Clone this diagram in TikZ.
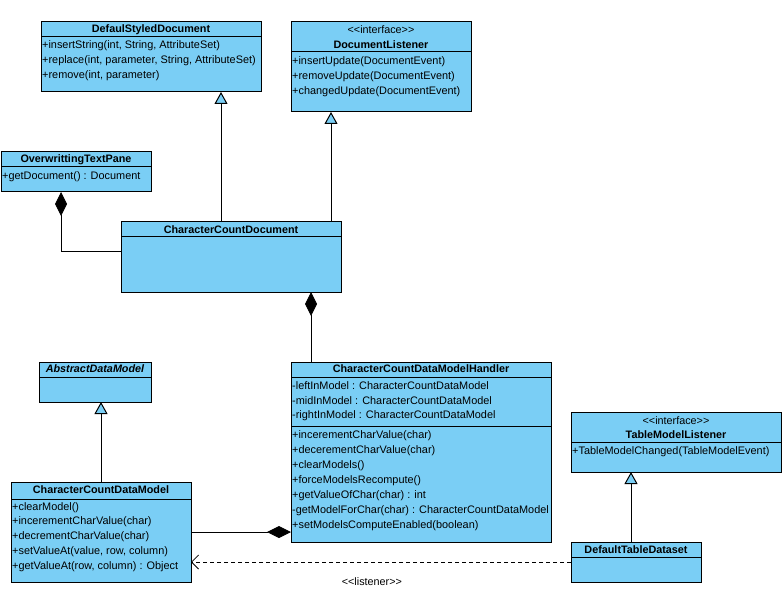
\documentclass[tikz,border=0pt]{standalone}
\usepackage{fontspec}
\setmainfont{Liberation Sans}
\usetikzlibrary{arrows.meta,calc}
\definecolor{umlblue}{RGB}{122,206,245}
\begin{document}
\begin{tikzpicture}[x=1pt,y=-1pt,
 cls/.style={draw, fill=umlblue, line width=1pt, anchor=north west, inner sep=0pt, outer sep=0pt},
 ttl/.style={font=\fontsize{10.8}{12}\selectfont\bfseries, inner sep=0pt},
 ster/.style={font=\fontsize{10.8}{12}\selectfont, inner sep=0pt},
 mem/.style={font=\fontsize{10.9}{12}\selectfont, inner sep=0pt, anchor=west},
 sepl/.style={line width=1pt},
 gen/.style={line width=1pt, -{Triangle[length=12pt,width=13pt,fill=umlblue]}},
 comp/.style={line width=1pt, {Diamond[length=24pt,width=12pt]}-},
 dep/.style={line width=0.8pt, dash pattern=on 4pt off 3pt, -{Straight Barb[length=7pt,width=14pt]}}
]
\fill[white] (0,0) rectangle (783,609);
\useasboundingbox (0,0) rectangle (783,609);

% DefaulStyledDocument
\node[cls, minimum width=220pt, minimum height=70pt] (dsd) at (41,22) {};
\draw[sepl] (41,37) -- (261,37);
\node[ttl] (dsdt) at (151,30) {DefaulStyledDocument};
\node[mem] (dsd1) at (42,46) {+insertString(int, String, AttributeSet)};
\node[mem] (dsd2) at (42,61) {+replace(int, parameter, String, AttributeSet)};
\node[mem] (dsd3) at (42,76) {+remove(int, parameter)};

% DocumentListener
\node[cls, minimum width=180pt, minimum height=90pt] (dl) at (291,22) {};
\node[ster] (dls) at (381,30) {<\kern0pt<interface>\kern0pt>};
\node[ttl] (dlt) at (381,45) {DocumentListener};
\draw[sepl] (291,52) -- (471,52);
\node[mem] (dl1) at (292,62) {+insertUpdate(DocumentEvent)};
\node[mem] (dl2) at (292,77) {+removeUpdate(DocumentEvent)};
\node[mem] (dl3) at (292,92) {+changedUpdate(DocumentEvent)};

% OverwrittingTextPane
\node[cls, minimum width=150pt, minimum height=40pt] (otp) at (1,152) {};
\node[ttl] (otpt) at (76,160) {OverwrittingTextPane};
\draw[sepl] (1,167) -- (151,167);
\node[mem] (otp1) at (2,177) {+getDocument() : Document};

% CharacterCountDocument
\node[cls, minimum width=220pt, minimum height=70pt] (ccd) at (121,222) {};
\node[ttl] (ccdt) at (231,230) {CharacterCountDocument};
\draw[sepl] (121,237) -- (341,237);

% AbstractDataModel
\node[cls, minimum width=112pt, minimum height=40pt] (adm) at (39,362) {};
\node[ttl, font=\fontsize{10.8}{12}\selectfont\bfseries\itshape] (admt) at (95,369) {AbstractDataModel};
\draw[sepl] (39,377) -- (151,377);

% CharacterCountDataModelHandler
\node[cls, minimum width=260pt, minimum height=180pt] (ccdmh) at (291,362) {};
\node[ttl] (ccdmht) at (421,369) {CharacterCountDataModelHandler};
\draw[sepl] (291,377) -- (551,377);
\node[mem] (h1) at (292,386) {-leftInModel : CharacterCountDataModel};
\node[mem] (h2) at (292,401) {-midInModel : CharacterCountDataModel};
\node[mem] (h3) at (292,416) {-rightInModel : CharacterCountDataModel};
\draw[sepl] (291,426) -- (551,426);
\node[mem] (h4) at (292,436) {+incerementCharValue(char)};
\node[mem] (h5) at (292,451) {+decerementCharValue(char)};
\node[mem] (h6) at (292,466) {+clearModels()};
\node[mem] (h7) at (292,481) {+forceModelsRecompute()};
\node[mem] (h8) at (292,496) {+getValueOfChar(char) : int};
\node[mem] (h9) at (292,511) {-getModelForChar(char) : CharacterCountDataModel};
\node[mem] (h10) at (292,526) {+setModelsComputeEnabled(boolean)};

% CharacterCountDataModel
\node[cls, minimum width=180pt, minimum height=100pt] (ccdm) at (11,482) {};
\node[ttl] (ccdmt) at (101,490) {CharacterCountDataModel};
\draw[sepl] (11,499) -- (191,499);
\node[mem] (m1) at (12,508) {+clearModel()};
\node[mem] (m2) at (12,522) {+incerementCharValue(char)};
\node[mem] (m3) at (12,537) {+decrementCharValue(char)};
\node[mem] (m4) at (12,552) {+setValueAt(value, row, column)};
\node[mem] (m5) at (12,567) {+getValueAt(row, column) : Object};

% TableModelListener
\node[cls, minimum width=210pt, minimum height=60pt] (tml) at (571,412) {};
\node[ster] (tmls) at (676,421) {<\kern0pt<interface>\kern0pt>};
\node[ttl] (tmlt) at (676,435) {TableModelListener};
\draw[sepl] (571,442) -- (781,442);
\node[mem] (tml1) at (572,452) {+TableModelChanged(TableModelEvent)};

% DefaultTableDataset
\node[cls, minimum width=130pt, minimum height=40pt] (dtd) at (571,542) {};
\node[ttl] (dtdt) at (636,550) {DefaultTableDataset};
\draw[sepl] (571,557) -- (701,557);

% Connectors
\coordinate (g1) at ($(ccd.north west)+(100,0)$);
\draw[gen] (g1) -- (g1 |- dsd.south);
\coordinate (g2) at ($(ccd.north west)+(210,0)$);
\draw[gen] (g2) -- (g2 |- dl.south);
\coordinate (c1) at ($(otp.south west)+(60,0)$);
\coordinate (c2) at ($(ccd.north west)+(0,30)$);
\draw[comp] (c1) |- (c2);
\coordinate (c3) at ($(ccd.south west)+(190,0)$);
\draw[comp] (c3) -- (c3 |- ccdmh.north);
\draw[gen] (ccdm.north) -- (ccdm.north |- adm.south);
\coordinate (c4) at ($(ccdmh.north west)+(0,170)$);
\draw[comp] (c4) -- (c4 -| ccdm.east);
\coordinate (g3) at ($(dtd.north west)+(60,0)$);
\draw[gen] (g3) -- (g3 |- tml.south);
\draw[dep] (dtd.west) -- (dtd.west -| ccdm.east)
  node[ster, pos=0.524, yshift=-20pt] (lis) {<\kern0pt<listener>\kern0pt>};
\end{tikzpicture}
\end{document}
